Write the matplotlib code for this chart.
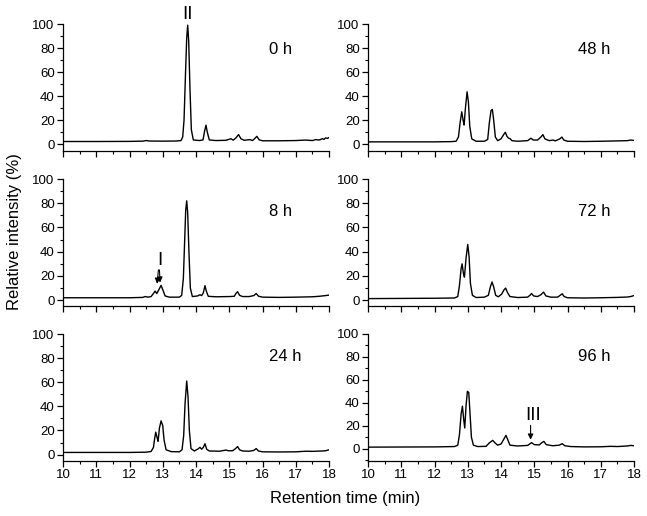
import matplotlib
matplotlib.use("Agg")
import matplotlib.pyplot as plt
from matplotlib.ticker import MultipleLocator

plt.rcParams["font.family"] = ["Liberation Sans", "DejaVu Sans"]

# retention time (min) / relative intensity (%)
t_0h = [10.0, 11.0, 12.0, 12.4, 12.5, 12.6, 13.0, 13.4, 13.55, 13.6, 13.64, 13.68, 13.72,
        13.75, 13.78, 13.82, 13.86, 13.92, 14.1, 14.21, 14.26, 14.30, 14.34, 14.40, 14.6,
        14.9, 15.05, 15.12, 15.21, 15.28, 15.35, 15.45, 15.62, 15.7, 15.77, 15.83, 15.9,
        16.0, 16.5, 17.0, 17.3, 17.5, 17.6, 17.7, 17.8, 17.85, 17.9, 17.95, 18.0]
y_0h = [2.2, 2.2, 2.3, 2.5, 3.0, 2.6, 2.5, 2.6, 3.0, 6, 20, 55, 88,
        99, 86, 45, 12, 3.5, 3.0, 3.5, 11, 15.8, 10, 3.5, 3.0,
        3.2, 4.5, 3.3, 5.5, 8, 4.5, 3.2, 3.8, 3.0, 4.8, 6.5, 3.6,
        2.8, 2.8, 3.0, 3.4, 3.0, 3.8, 3.4, 4.5, 4.0, 5.2, 4.8, 5.5]

t_8h = [10.0, 12.0, 12.4, 12.47, 12.55, 12.65, 12.72, 12.77, 12.82, 12.87, 12.95, 13.01,
        13.07, 13.2, 13.5, 13.57, 13.62, 13.66, 13.69, 13.72, 13.75, 13.79, 13.83, 13.89,
        14.05, 14.12, 14.17, 14.22, 14.27, 14.31, 14.37, 14.6, 15.0, 15.15, 15.2, 15.25,
        15.31, 15.4, 15.6, 15.74, 15.81, 15.88, 16.0, 16.5, 17.0, 17.5, 17.7, 17.8, 17.9,
        18.0]
y_8h = [2.0, 2.0, 2.3, 3.0, 2.5, 3.0, 5.5, 7.5, 5.5, 8, 12.2, 8,
        3.5, 2.5, 2.5, 4, 18, 50, 74, 82, 72, 38, 10, 3,
        3.5, 4.5, 3.8, 6, 12, 7.5, 3.2, 2.8, 3.0, 3.2, 5.5, 7,
        4, 3, 3.0, 3.8, 5.5, 3.3, 2.5, 2.3, 2.5, 2.8, 3.2, 3.5, 3.8,
        4.2]

t_24h = [10.0, 12.0, 12.5, 12.65, 12.72, 12.76, 12.79, 12.83, 12.86, 12.9, 12.95, 13.0,
         13.04, 13.1, 13.25, 13.5, 13.58, 13.63, 13.67, 13.72, 13.76, 13.8, 13.85, 13.95,
         14.05, 14.12, 14.17, 14.22, 14.27, 14.32, 14.4, 14.7, 14.85, 14.9, 14.97, 15.1,
         15.19, 15.25, 15.31, 15.4, 15.6, 15.74, 15.81, 15.88, 16.0, 16.5, 17.0, 17.3, 17.5,
         17.8, 17.9, 18.0]
y_24h = [1.8, 1.8, 2.0, 2.6, 6, 14, 18.6, 14, 11, 22, 28, 24,
         12, 4, 2.5, 2.3, 4, 16, 42, 61, 48, 20, 5, 3,
         4.5, 6, 4.5, 6, 9, 4.5, 3, 2.8, 3.5, 3.8, 3.2, 3.2,
         5, 6.7, 4, 3, 2.8, 3.5, 5, 3, 2.3, 2.2, 2.3, 2.8, 2.7,
         3.0, 3.2, 4.0]

t_48h = [10.0, 12.0, 12.5, 12.65, 12.72, 12.77, 12.82, 12.86, 12.89, 12.93, 12.98, 13.02,
         13.06, 13.12, 13.25, 13.5, 13.6, 13.65, 13.7, 13.74, 13.78, 13.83, 13.9, 14.0,
         14.08, 14.13, 14.18, 14.23, 14.27, 14.33, 14.5, 14.8, 14.9, 14.97, 15.1, 15.2,
         15.26, 15.32, 15.45, 15.57, 15.63, 15.77, 15.83, 15.89, 16.0, 16.5, 17.0, 17.5,
         17.8, 17.9, 18.0]
y_48h = [2.0, 2.0, 2.2, 2.5, 6, 18, 27, 20, 16, 30, 43.6, 35,
         15, 4.5, 2.5, 2.5, 4, 18, 28, 29, 20, 6, 3, 4.5,
         8, 10, 6.5, 5, 4.7, 3, 2.5, 3, 5, 3.5, 3.5, 6,
         8, 4.5, 3, 3.5, 2.8, 4.5, 6, 3.5, 2.5, 2.3, 2.5, 2.8,
         3.0, 3.5, 3.2]

t_72h = [10.0, 12.0, 12.6, 12.7, 12.75, 12.8, 12.83, 12.87, 12.9, 12.95, 13.0, 13.04,
         13.08, 13.14, 13.25, 13.5, 13.62, 13.68, 13.73, 13.78, 13.84, 13.92, 14.02, 14.09,
         14.14, 14.2, 14.27, 14.5, 14.8, 14.87, 14.92, 14.98, 15.1, 15.2, 15.28, 15.35,
         15.5, 15.7, 15.78, 15.84, 15.9, 16.0, 16.5, 17.0, 17.5, 17.8, 17.9, 18.0]
y_72h = [1.3, 1.6, 1.8, 3, 12, 26, 30, 22, 19, 35, 46, 36,
         14, 4, 2.2, 2.5, 4, 11, 15, 11, 4, 2.8, 5, 8.5,
         10, 6, 3, 2.2, 2.5, 4, 5.5, 3.5, 3, 4.5, 6.7, 3.5,
         2.5, 2.5, 4, 5.3, 3, 2, 1.8, 2.0, 2.3, 2.6, 3.0, 3.8]

t_96h = [10.0, 12.0, 12.6, 12.7, 12.75, 12.8, 12.84, 12.88, 12.91, 12.95, 12.99, 13.03,
         13.07, 13.11, 13.17, 13.3, 13.55, 13.65, 13.75, 13.82, 13.9, 14.0, 14.08, 14.15,
         14.2, 14.27, 14.5, 14.8, 14.92, 15.0, 15.15, 15.22, 15.29, 15.36, 15.55, 15.75,
         15.84, 15.92, 16.1, 16.5, 17.0, 17.3, 17.5, 17.8, 17.9, 18.0]
y_96h = [1.3, 1.5, 1.8, 3, 12, 30, 37, 25, 18, 38, 50, 49,
         30, 10, 3, 1.8, 2, 5, 7.2, 5, 3, 4, 8, 11.6,
         8, 3, 2.3, 2.8, 5.2, 3.5, 3.2, 5, 6.3, 3.5, 2.5, 3,
         4.3, 2.5, 1.8, 1.5, 1.6, 2.0, 1.8, 2.3, 2.8, 2.5]

panel_labels = ["0 h", "48 h", "8 h", "72 h", "24 h", "96 h"]
traces = [(t_0h, y_0h), (t_48h, y_48h), (t_8h, y_8h),
          (t_72h, y_72h), (t_24h, y_24h), (t_96h, y_96h)]
y_bottoms = [-5.7, -5.6, -4.8, -4.8, -5.3, -10.8]
label_y = [0.80, 0.80, 0.745, 0.745, 0.82, 0.82]
x_ticks = list(range(10, 19))

W, H = 647, 516
fig = plt.figure(figsize=(W / 100, H / 100), dpi=100)

col_left = [63, 368]
col_w = 266
row_top = [24, 179, 334]
row_h = 127

axes = []
for i, ((t, y), lab) in enumerate(zip(traces, panel_labels)):
    r, c = divmod(i, 2)
    ax = fig.add_axes([col_left[c] / W, 1 - (row_top[r] + row_h) / H,
                       col_w / W, row_h / H])
    ax.plot(t, y, color="black", lw=1.0)
    ax.set_xlim(10, 18)
    ax.set_ylim(y_bottoms[i], 100)
    ax.spines["top"].set_visible(False)
    ax.spines["right"].set_visible(False)
    for s in ("left", "bottom"):
        ax.spines[s].set_linewidth(0.9)
    ax.set_xticks(x_ticks)
    ax.xaxis.set_minor_locator(MultipleLocator(0.5))
    ax.set_yticks([0, 20, 40, 60, 80, 100])
    ax.yaxis.set_minor_locator(MultipleLocator(10))
    ax.tick_params(which="major", direction="out", length=4.5, width=0.9,
                   labelsize=9.5, pad=1.5)
    ax.tick_params(which="minor", direction="out", length=2.5, width=0.8)
    if r < 2:
        ax.tick_params(axis="x", labelbottom=False)
    ax.text(16.2 if c == 0 else 16.33, label_y[i], lab,
            transform=ax.get_xaxis_transform(), fontsize=12, va="center", ha="left")
    axes.append(ax)

# peak markers
axes[0].text(13.75, 108, "II", ha="center", va="center", fontsize=13.5, clip_on=False)

ax8 = axes[2]
ax8.text(12.90, 33, "I", ha="center", va="center", fontsize=13.5)
arrow = dict(arrowstyle="-|>", color="black", lw=0.8, mutation_scale=8,
             shrinkA=0, shrinkB=0)
ax8.annotate("", xy=(12.83, 13.5), xytext=(12.87, 25), arrowprops=arrow)
ax8.annotate("", xy=(12.92, 14.5), xytext=(12.90, 25), arrowprops=arrow)

ax96 = axes[5]
ax96.text(14.96, 29, "III", ha="center", va="center", fontsize=13.5)
ax96.annotate("", xy=(14.89, 7.8), xytext=(14.89, 20.3), arrowprops=arrow)

fig.text(15 / W, 1 - 232 / H, "Relative intensity (%)", rotation=90,
         ha="center", va="center", fontsize=12)
fig.text(345 / W, 1 - 498 / H, "Retention time (min)",
         ha="center", va="center", fontsize=12)

fig.savefig("out.png", dpi=100)
